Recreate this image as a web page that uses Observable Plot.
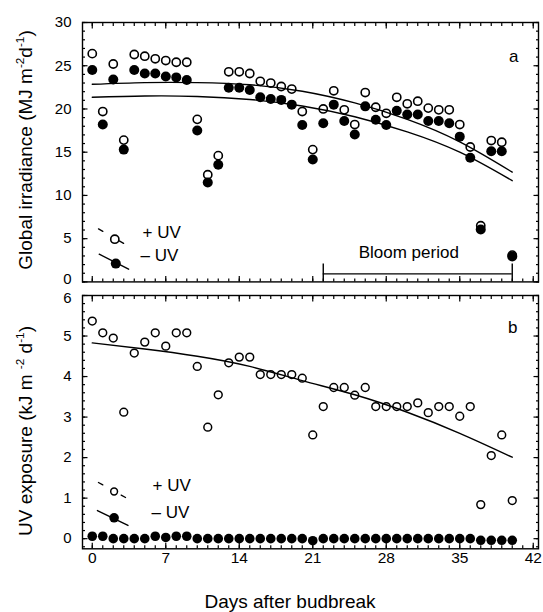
<!DOCTYPE html>
<html>
<head>
<meta charset="utf-8">
<script src="https://cdn.jsdelivr.net/npm/d3@7"></script>
<script src="https://cdn.jsdelivr.net/npm/@observablehq/plot@0.6"></script>
<style>
  html, body { margin: 0; padding: 0; background: #fff; }
  #wrap { position: relative; width: 543px; height: 612px; overflow: hidden; }
  #wrap svg { position: absolute; left: 0; overflow: visible; }
</style>
</head>
<body>
<div id="wrap"></div>
<script>
// ---------------- data ----------------
const days = [0,1,2,3,4,5,6,7,8,9,10,11,12,13,14,15,16,17,18,19,20,21,22,23,24,25,26,27,28,29,30,31,32,33,34,35,36,37,38,39,40];

// Panel a: global irradiance (MJ m-2 d-1)
const globalPlusUV  = [26.4,19.7,25.2,16.4,26.3,26.1,25.8,25.6,25.4,25.4,18.8,12.4,14.6,24.3,24.3,24.1,23.2,23.0,22.6,22.3,19.7,15.3,20.0,22.1,19.9,18.2,21.9,20.2,19.5,21.35,20.6,20.9,20.1,19.9,19.9,18.2,15.6,6.5,16.35,16.15,3.1];
const globalMinusUV = [24.5,18.2,23.4,15.3,24.5,24.1,24.1,23.75,23.65,23.35,17.5,11.5,13.55,22.45,22.45,22.2,21.35,21.15,21.05,20.5,18.15,14.15,18.35,20.5,18.6,17.05,20.3,18.75,18.15,19.8,19.35,19.35,18.6,18.6,18.35,16.8,14.35,6.05,15.1,15.1,2.95];

// Panel b: UV exposure (kJ m-2 d-1)
const uvPlusUV  = [5.37,5.08,4.95,3.12,4.58,4.85,5.08,4.75,5.08,5.08,4.25,2.75,3.55,4.34,4.48,4.48,4.05,4.05,4.05,4.05,3.96,2.56,3.26,3.73,3.73,3.54,3.73,3.26,3.26,3.26,3.26,3.35,3.11,3.26,3.26,3.02,3.26,0.84,2.05,2.56,0.94];
const uvMinusUV = [0.06,0.06,0,0,0,0,0.06,0.03,0.06,0.06,0,0,0,0,0,0,0,0,0,0,0,-0.05,0,0,0,0,0,0,0,0,0,0,0,0,0,0,0,-0.04,-0.04,-0.04,-0.04];

// Fitted curves
const fitDays        = [0,5,10,15,20,25,30,35,40];
const fitGlobalPlus  = [22.85,23.05,23.05,22.8,22.05,20.7,18.8,16.2,12.7];
const fitGlobalMinus = [21.35,21.5,21.45,21.1,20.35,19.1,17.35,15.0,11.7];
const fitUV          = [4.83,4.68,4.5,4.25,3.9,3.55,3.12,2.6,2.01];

// Ticks / labels
const xTickLabels = [0,7,14,21,28,35,42];
const yTicksTop = [0,5,10,15,20,25,30];
const yTicksBottom = [0,1,2,3,4,5,6];
const bloomPeriod = [22, 40];
const bloomLabel = ["Bloom period"];
const seriesLabels = ["+ UV", "\u2013 UV"];
const panelLabels = ["a", "b"];

// ---------------- helpers ----------------
const font = '"Liberation Sans", Arial, Helvetica, sans-serif';
const xDomain = [-0.93, 42.5];
const xMinorTicks = d3.range(0, 43, 1);
const seg = { draw(ctx, l) { ctx.moveTo(0, 0); ctx.lineTo(0, -l); } };

function frameAxes(yMajor, yMinor, edgeTick, edgeDy) {
  const tk = { fill: "none", label: null, strokeWidth: 1.2 };
  const lab = { anchor: "left", tickSize: 0, tickPadding: 11, label: null, fontSize: 15, tickFormat: d => String(d) };
  return [
    Plot.frame({ stroke: "black", strokeWidth: 1.4 }),
    Plot.axisY({ anchor: "left",  ticks: yMinor, tickSize: 3,   dx: 3,    ...tk }),
    Plot.axisY({ anchor: "left",  ticks: yMajor, tickSize: 5.5, dx: 5.5,  ...tk }),
    Plot.axisY({ anchor: "right", ticks: yMinor, tickSize: 3,   dx: -3,   ...tk }),
    Plot.axisY({ anchor: "right", ticks: yMajor, tickSize: 5.5, dx: -5.5, ...tk }),
    Plot.axisX({ anchor: "top",    ticks: xMinorTicks, tickSize: 3,   dy: 3,    ...tk }),
    Plot.axisX({ anchor: "top",    ticks: xTickLabels, tickSize: 5.5, dy: 5.5,  ...tk }),
    Plot.axisX({ anchor: "bottom", ticks: xMinorTicks, tickSize: 3,   dy: -3,   ...tk }),
    Plot.axisX({ anchor: "bottom", ticks: xTickLabels, tickSize: 5.5, dy: -5.5, ...tk }),
    Plot.axisY({ ...lab, ticks: yMajor.filter(v => v !== edgeTick) }),
    Plot.axisY({ ...lab, ticks: [edgeTick], dy: edgeDy })
  ];
}

function yTitle(svg, x, y, parts, size) {
  const t = d3.select(svg).append("text")
    .attr("transform", `translate(${x},${y}) rotate(-90)`)
    .attr("text-anchor", "middle")
    .attr("font-family", font)
    .attr("font-size", size)
    .attr("fill", "black");
  let up = false;
  for (const [s, sup] of parts) {
    const ts = t.append("tspan").text(s);
    if (sup && !up) { ts.attr("dy", -8).attr("font-size", size * 0.62); up = true; }
    else if (sup && up) { ts.attr("font-size", size * 0.62); }
    else if (!sup && up) { ts.attr("dy", 8); up = false; }
  }
}

const wrap = document.getElementById("wrap");
const style = { fontFamily: font, color: "black", background: "transparent", overflow: "visible" };

// ---------------- panel a ----------------
const topRows = days.map((d, i) => ({ day: d, plus: globalPlusUV[i], minus: globalMinusUV[i] }));
const topFit = fitDays.map((d, i) => ({ day: d, plus: fitGlobalPlus[i], minus: fitGlobalMinus[i] }));
const topH = 300, topMT = 22, topMB = 18.6;
const topFrameH = topH - topMT - topMB;

const topPlot = Plot.plot({
  width: 543, height: topH,
  marginTop: topMT, marginBottom: topMB, marginLeft: 82, marginRight: 5,
  style,
  x: { domain: xDomain },
  y: { domain: [yTicksTop[0], yTicksTop[yTicksTop.length - 1]] },
  marks: [
    ...frameAxes(yTicksTop, d3.range(0, 31, 1), yTicksTop[0], -2.5),
    Plot.line(topFit, { x: "day", y: "plus", curve: "natural", stroke: "black", strokeWidth: 1.4 }),
    Plot.line(topFit, { x: "day", y: "minus", curve: "natural", stroke: "black", strokeWidth: 1.4 }),
    Plot.dot(topRows, { x: "day", y: "plus", r: 4.1, stroke: "black", strokeWidth: 1.6, fill: "none" }),
    Plot.dot(topRows, { x: "day", y: "minus", r: 5, fill: "black", stroke: "none" }),
    // bloom period bracket
    Plot.ruleY([bloomPeriod], { y: () => yTicksTop[0], x1: d => d[0], x2: d => d[1], dy: -8, stroke: "black", strokeWidth: 1.4 }),
    Plot.ruleX(bloomPeriod, { x: d => d, insetTop: topFrameH - 18, stroke: "black", strokeWidth: 1.4 }),
    Plot.text(bloomLabel, { x: () => (bloomPeriod[0] + bloomPeriod[1]) / 2, frameAnchor: "bottom", dx: -9, dy: -24, fontSize: 17, fill: "black" }),
    // legend
    Plot.vector([0], { frameAnchor: "bottom-left", dx: 29, dy: -45.5, length: 30, rotate: 120, anchor: "middle", shape: seg, stroke: "black", strokeWidth: 1.3, strokeDasharray: "5,19" }),
    Plot.dot([0], { frameAnchor: "bottom-left", dx: 32.3, dy: -42.7, r: 4.1, stroke: "black", strokeWidth: 1.6, fill: "none" }),
    Plot.vector([0], { frameAnchor: "bottom-left", dx: 31.4, dy: -20.2, length: 33, rotate: 117, anchor: "middle", shape: seg, stroke: "black", strokeWidth: 1.4 }),
    Plot.dot([0], { frameAnchor: "bottom-left", dx: 33.3, dy: -18.3, r: 5, fill: "black" }),
    Plot.text([seriesLabels[0]], { frameAnchor: "bottom-left", dx: 60, dy: -44.3, textAnchor: "start", fontSize: 17, fill: "black" }),
    Plot.text([seriesLabels[1]], { frameAnchor: "bottom-left", dx: 58, dy: -21, textAnchor: "start", fontSize: 17, fill: "black" }),
    Plot.text([panelLabels[0]], { frameAnchor: "top-right", dx: -20, dy: 27, fontSize: 17, fill: "black" })
  ]
});
topPlot.style.top = "0px";
wrap.appendChild(topPlot);
yTitle(topPlot, 31.5, 150, [["Global irradiance (MJ m", false], ["-2", true], ["d", false], ["-1", true], [")", false]], 19);

// ---------------- panel b ----------------
const botRows = days.map((d, i) => ({ day: d, plus: uvPlusUV[i], minus: uvMinusUV[i] }));
const botFit = fitDays.map((d, i) => ({ day: d, v: fitUV[i] }));
const botTop = 283, botH = 329, botMT = 12, botMB = 63.7;

const botPlot = Plot.plot({
  width: 543, height: botH,
  marginTop: botMT, marginBottom: botMB, marginLeft: 82, marginRight: 5,
  style,
  x: { domain: xDomain },
  y: { domain: [-0.25, yTicksBottom[yTicksBottom.length - 1]] },
  marks: [
    ...frameAxes(yTicksBottom, d3.range(-0.2, 6.01, 0.2).map(v => +v.toFixed(1)), yTicksBottom[yTicksBottom.length - 1], 2.5),
    Plot.axisX({ anchor: "bottom", ticks: xTickLabels, tickSize: 0, tickPadding: 3, label: null, fontSize: 15.5, tickFormat: d => String(d) }),
    Plot.line(botFit, { x: "day", y: "v", curve: "natural", stroke: "black", strokeWidth: 1.4 }),
    Plot.dot(botRows, { x: "day", y: "plus", r: 3.9, stroke: "black", strokeWidth: 1.5, fill: "none" }),
    Plot.dot(botRows, { x: "day", y: "minus", r: 4.8, fill: "black", stroke: "none" }),
    // legend
    Plot.vector([0], { frameAnchor: "bottom-left", dx: 29.5, dy: -58.8, length: 31, rotate: 119, anchor: "middle", shape: seg, stroke: "black", strokeWidth: 1.3, strokeDasharray: "5,21" }),
    Plot.dot([0], { frameAnchor: "bottom-left", dx: 31.6, dy: -57.3, r: 3.4, stroke: "black", strokeWidth: 1.5, fill: "none" }),
    Plot.vector([0], { frameAnchor: "bottom-left", dx: 30.2, dy: -30.8, length: 34, rotate: 116, anchor: "middle", shape: seg, stroke: "black", strokeWidth: 1.4 }),
    Plot.dot([0], { frameAnchor: "bottom-left", dx: 31.6, dy: -31, r: 4.8, fill: "black" }),
    Plot.text([seriesLabels[0]], { frameAnchor: "bottom-left", dx: 70, dy: -58.3, textAnchor: "start", fontSize: 17, fill: "black" }),
    Plot.text([seriesLabels[1]], { frameAnchor: "bottom-left", dx: 69, dy: -31, textAnchor: "start", fontSize: 17, fill: "black" }),
    Plot.text([panelLabels[1]], { frameAnchor: "top-right", dx: -21, dy: 25.7, fontSize: 17, fill: "black" })
  ]
});
botPlot.style.top = botTop + "px";
wrap.appendChild(botPlot);
yTitle(botPlot, 31.5, 431 - botTop, [["UV exposure (kJ m ", false], ["-2", true], [" d", false], ["-1", true], [")", false]], 19);
d3.select(botPlot).append("text")
  .attr("x", 290).attr("y", 608.3 - botTop)
  .attr("text-anchor", "middle")
  .attr("font-family", font).attr("font-size", 19).attr("fill", "black")
  .text("Days after budbreak");
</script>
</body>
</html>
